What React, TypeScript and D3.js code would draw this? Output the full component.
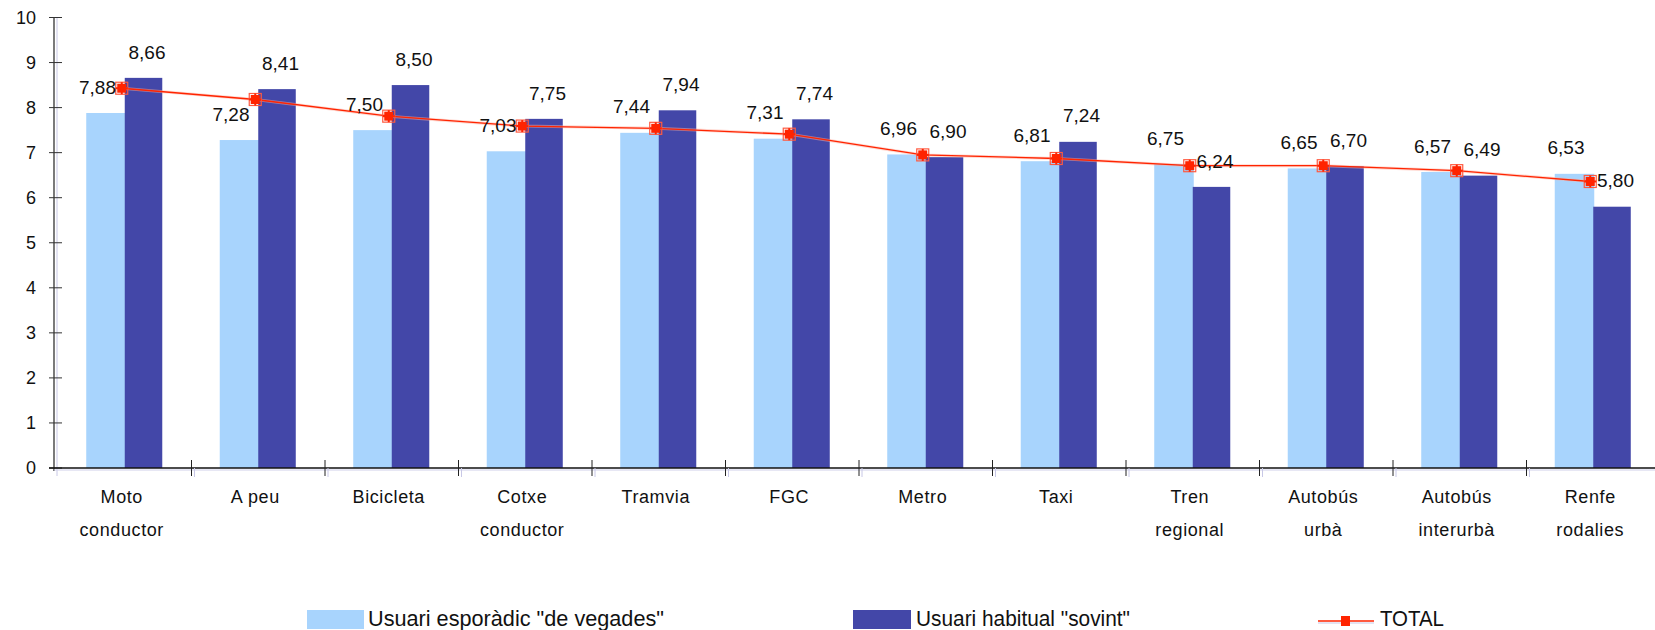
import React from "react";
import * as d3 from "d3";

const categories: string[][] = [
  ["Moto", "conductor"],
  ["A peu"],
  ["Bicicleta"],
  ["Cotxe", "conductor"],
  ["Tramvia"],
  ["FGC"],
  ["Metro"],
  ["Taxi"],
  ["Tren", "regional"],
  ["Autobús", "urbà"],
  ["Autobús", "interurbà"],
  ["Renfe", "rodalies"],
];
const esporadic = [7.88, 7.28, 7.5, 7.03, 7.44, 7.31, 6.96, 6.81, 6.75, 6.65, 6.57, 6.53];
const habitual = [8.66, 8.41, 8.5, 7.75, 7.94, 7.74, 6.9, 7.24, 6.24, 6.7, 6.49, 5.8];
const total = [8.43, 8.18, 7.81, 7.59, 7.54, 7.41, 6.95, 6.87, 6.71, 6.71, 6.6, 6.36];
const yTicks = [0, 1, 2, 3, 4, 5, 6, 7, 8, 9, 10];
const seriesNames = ['Usuari esporàdic "de vegades"', 'Usuari habitual "sovint"', "TOTAL"];

const W = 1655;
const H = 630;
const LIGHT = "#A8D4FD";
const DARK = "#4347A8";
const RED = "#FF2400";
const FONT = "'Liberation Sans', Arial, sans-serif";

const fmt = (v: number) => v.toFixed(2).replace(".", ",");

export default function App() {
  const keys = categories.map((c) => c.join(" "));
  // plot area continues past the right edge of the picture (cropped source)
  const x0 = d3.scaleBand<string>().domain(keys).range([58, 1660]).padding(0);
  const step = x0.bandwidth();
  const groupW = step * 0.577;
  const x1 = d3.scaleBand<string>().domain(["a", "b"]).range([0, groupW]).padding(0);
  const gx = (i: number) => (x0(keys[i]) as number) + (step - groupW) / 2;
  const cx = (i: number) => (x0(keys[i]) as number) + step / 2;

  const y = d3.scaleLinear().domain([0, 10]).range([468, 17.5]);
  const line = d3
    .line<number>()
    .x((_, i) => cx(i) - 3)
    .y((d) => y(d));
  const axisX = 54;
  const y0 = y(0);

  const marker = (mx: number, my: number, key: string) => (
    <g key={key}>
      <rect x={mx - 6} y={my - 6} width={12} height={12} fill="none" stroke="#FF5A40" strokeWidth={1.2} />
      <rect x={mx - 4.5} y={my - 4.5} width={9} height={9} fill={RED} />
      <line x1={mx - 6} x2={mx + 6} y1={my} y2={my} stroke={RED} strokeWidth={2} />
      <line x1={mx} x2={mx} y1={my - 6} y2={my + 6} stroke={RED} strokeWidth={2} />
    </g>
  );

  return (
    <svg
      width={W}
      height={H}
      style={{ position: "absolute", left: 0, top: 0, background: "#fff" }}
      fontFamily={FONT}
    >
      {/* bars */}
      {keys.map((k, i) => (
        <g key={"b" + k}>
          <rect
            x={gx(i) + (x1("a") as number)}
            y={y(esporadic[i])}
            width={x1.bandwidth() + 1}
            height={y0 - y(esporadic[i])}
            fill={LIGHT}
          />
          <rect
            x={gx(i) + (x1("b") as number)}
            y={y(habitual[i])}
            width={x1.bandwidth() - 1}
            height={y0 - y(habitual[i])}
            fill={DARK}
          />
        </g>
      ))}

      {/* y axis */}
      <line x1={axisX + 3} x2={axisX + 3} y1={y(10)} y2={y0 + 8} stroke="#C8C8E6" strokeWidth={1} />
      <line x1={axisX} x2={axisX} y1={y(10)} y2={y0 + 3} stroke="#333" strokeWidth={1.3} />
      {yTicks.map((t) => (
        <g key={t}>
          <line x1={axisX - 5} x2={axisX + 8} y1={y(t)} y2={y(t)} stroke="#333" strokeWidth={1} />
          <text x={36} y={y(t)} dy="0.35em" textAnchor="end" fontSize={18} fill="#111">
            {t}
          </text>
        </g>
      ))}

      {/* x axis */}
      <line x1={axisX} x2={W} y1={y0 + 2} y2={y0 + 2} stroke="#D0D0EA" strokeWidth={1} />
      <line x1={axisX - 5} x2={W} y1={y0} y2={y0} stroke="#111" strokeWidth={1.3} />
      {keys.slice(1).map((k) => {
        const bx = x0(k) as number;
        return (
          <g key={"t" + k}>
            <line x1={bx + 3} x2={bx + 3} y1={y0} y2={y0 + 9} stroke="#C8C8E6" strokeWidth={1} />
            <line x1={bx} x2={bx} y1={y0 - 8} y2={y0 + 8} stroke="#222" strokeWidth={1} />
          </g>
        );
      })}
      {categories.map((c, i) =>
        c.map((ln, j) => (
          <text
            key={"c" + i + "-" + j}
            x={cx(i) - 3}
            y={497 + j * 33}
            dy="0.35em"
            textAnchor="middle"
            fontSize={18}
            letterSpacing={0.6}
            fill="#111"
          >
            {ln}
          </text>
        ))
      )}

      {/* total line */}
      <path d={line(total) || ""} fill="none" stroke="#FFB0A0" strokeWidth={3} opacity={0.5} />
      <path d={line(total) || ""} fill="none" stroke={RED} strokeWidth={1.3} />
      {total.map((v, i) => marker(cx(i) - 3, y(v), "m" + i))}

      {/* value labels */}
      {keys.map((k, i) => (
        <g key={"l" + k}>
          <text
            x={gx(i) + (x1("a") as number) + x1.bandwidth() / 2 - 8}
            y={y(esporadic[i]) - 26}
            dy="0.35em"
            textAnchor="middle"
            fontSize={19}
            fill="#111"
          >
            {fmt(esporadic[i])}
          </text>
          <text
            x={gx(i) + (x1("b") as number) + x1.bandwidth() / 2 + 3}
            y={y(habitual[i]) - 26}
            dy="0.35em"
            textAnchor="middle"
            fontSize={19}
            fill="#111"
          >
            {fmt(habitual[i])}
          </text>
        </g>
      ))}

      {/* legend */}
      <g>
        <rect x={307} y={610} width={57} height={19} fill={LIGHT} />
        <text x={368} y={626} fontSize={22} textLength={296} lengthAdjust="spacingAndGlyphs" fill="#111">
          {seriesNames[0]}
        </text>
        <rect x={853} y={610} width={58} height={19} fill={DARK} />
        <text x={916} y={626} fontSize={22} textLength={214} lengthAdjust="spacingAndGlyphs" fill="#111">
          {seriesNames[1]}
        </text>
        <line x1={1318} x2={1374} y1={623} y2={623} stroke="#C8C8E6" strokeWidth={1} />
        <line x1={1318} x2={1374} y1={621} y2={621} stroke={RED} strokeWidth={1.3} />
        <rect x={1341} y={616} width={9} height={10} fill={RED} />
        <text x={1380} y={626} fontSize={22} textLength={64} lengthAdjust="spacingAndGlyphs" fill="#111">
          {seriesNames[2]}
        </text>
      </g>
    </svg>
  );
}
